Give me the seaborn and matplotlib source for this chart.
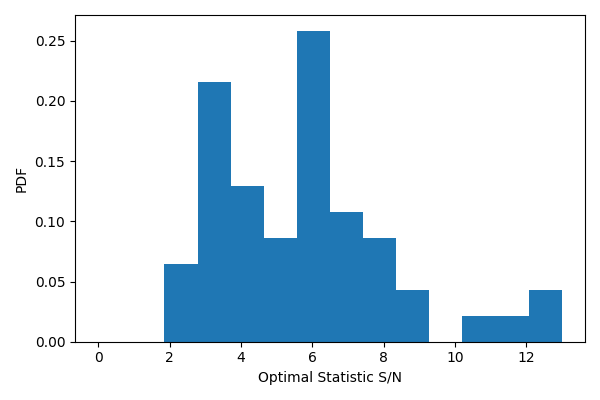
import numpy as np
import pandas as pd
import matplotlib
import matplotlib.pyplot as plt
import seaborn as sns

matplotlib.use("Agg")

# 14 equal bins from 0 to 13, counts (50 samples in all)
bin_lo, bin_hi, n_bins = 0, 13, 14
bin_counts = [0, 0, 3, 10, 6, 4, 12, 5, 4, 2, 0, 1, 1, 2]

# one weighted point at each bin centre
bin_edges = np.linspace(bin_lo, bin_hi, n_bins + 1)
centres = (bin_edges[:-1] + bin_edges[1:]) / 2
df = pd.DataFrame({"snr": centres, "count": bin_counts})

fig, ax = plt.subplots(figsize=(6, 4), dpi=100)
sns.histplot(data=df, x="snr", weights="count",
             binwidth=(bin_hi - bin_lo) / n_bins, binrange=(bin_lo, bin_hi),
             stat="density", color="#1f77b4", alpha=1, linewidth=0,
             edgecolor="none", ax=ax)
ax.set_xlim(-0.65, 13.65)
ax.set_xlabel("Optimal Statistic S/N")
ax.set_ylabel("PDF")
fig.tight_layout()
fig.savefig("out.png")
